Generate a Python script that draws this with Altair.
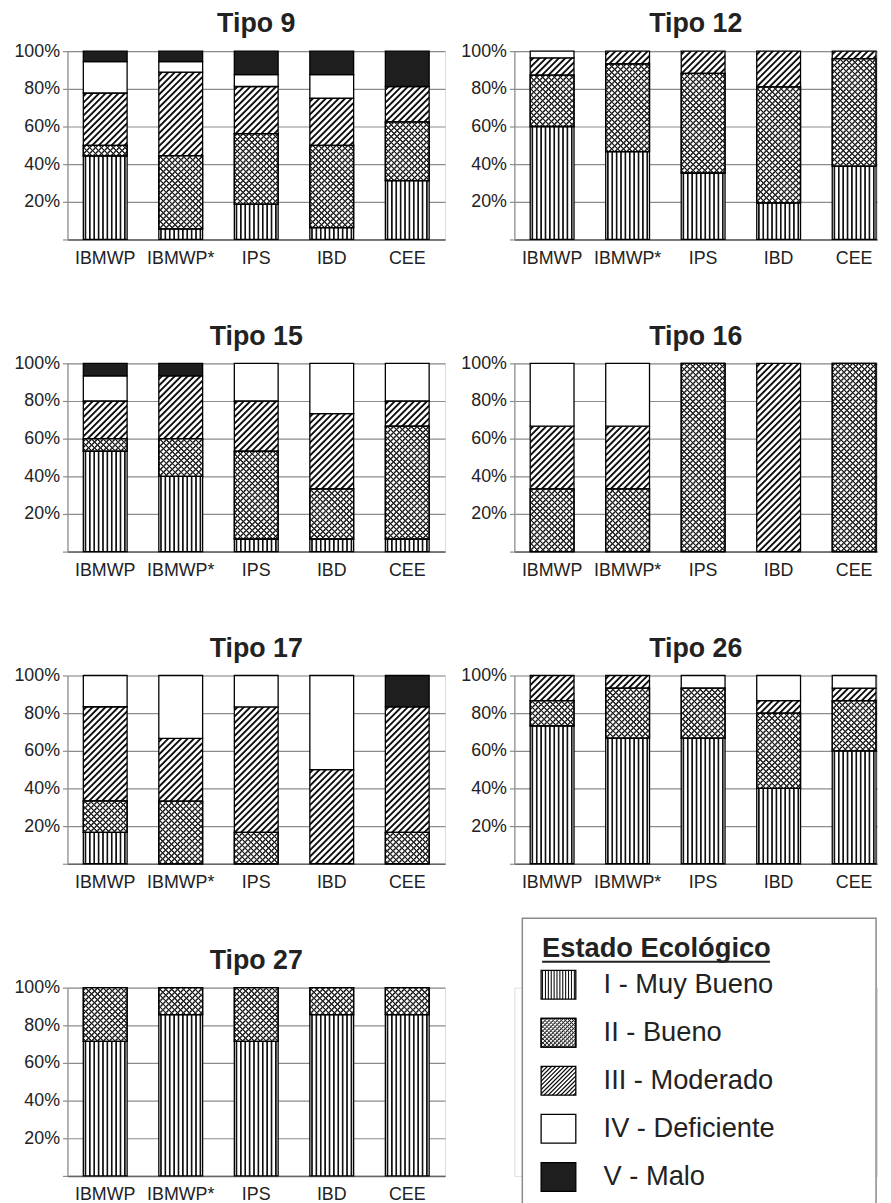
import math
import altair as alt

# ---------------- data (percent of sites per ecological state) ----------------
INDICES = ["IBMWP", "IBMWP*", "IPS", "IBD", "CEE"]
STATES = ["I", "II", "III", "IV", "V"]
STATE_LABELS = ["I - Muy Bueno", "II - Bueno", "III - Moderado", "IV - Deficiente", "V - Malo"]

# each row: one index, values for states I..V
TIPO_9 = [
    [44.4, 5.6, 27.8, 16.7, 5.5],
    [5.6, 38.9, 44.4, 5.6, 5.5],
    [18.75, 37.5, 25.0, 6.25, 12.5],
    [6.25, 43.75, 25.0, 12.5, 12.5],
    [31.25, 31.25, 18.75, 0.0, 18.75],
]
TIPO_12 = [
    [60.0, 27.3, 9.2, 3.5, 0.0],
    [46.7, 46.6, 6.7, 0.0, 0.0],
    [35.3, 52.9, 11.8, 0.0, 0.0],
    [19.5, 61.5, 19.0, 0.0, 0.0],
    [39.0, 57.0, 4.0, 0.0, 0.0],
]
TIPO_15 = [
    [53.3, 6.7, 20.0, 13.3, 6.7],
    [40.0, 20.0, 33.3, 0.0, 6.7],
    [6.7, 46.6, 26.7, 20.0, 0.0],
    [6.7, 26.6, 40.0, 26.7, 0.0],
    [6.7, 60.0, 13.3, 20.0, 0.0],
]
TIPO_16 = [
    [0.0, 33.3, 33.3, 33.4, 0.0],
    [0.0, 33.3, 33.3, 33.4, 0.0],
    [0.0, 100.0, 0.0, 0.0, 0.0],
    [0.0, 0.0, 100.0, 0.0, 0.0],
    [0.0, 100.0, 0.0, 0.0, 0.0],
]
TIPO_17 = [
    [16.7, 16.7, 50.0, 16.6, 0.0],
    [0.0, 33.3, 33.3, 33.4, 0.0],
    [0.0, 16.7, 66.6, 16.7, 0.0],
    [0.0, 0.0, 50.0, 50.0, 0.0],
    [0.0, 16.7, 66.6, 0.0, 16.7],
]
TIPO_26 = [
    [73.3, 13.3, 13.4, 0.0, 0.0],
    [66.7, 26.6, 6.7, 0.0, 0.0],
    [66.7, 26.6, 0.0, 6.7, 0.0],
    [40.0, 40.0, 6.7, 13.3, 0.0],
    [60.0, 26.7, 6.6, 6.7, 0.0],
]
TIPO_27 = [
    [71.4, 28.6, 0.0, 0.0, 0.0],
    [85.7, 14.3, 0.0, 0.0, 0.0],
    [71.4, 28.6, 0.0, 0.0, 0.0],
    [85.7, 14.3, 0.0, 0.0, 0.0],
    [85.7, 14.3, 0.0, 0.0, 0.0],
]
TITLES = ["Tipo 9", "Tipo 12", "Tipo 15", "Tipo 16", "Tipo 17", "Tipo 26", "Tipo 27"]
TABLES = [TIPO_9, TIPO_12, TIPO_15, TIPO_16, TIPO_17, TIPO_26, TIPO_27]

# ---------------- layout / style ----------------
FONT = "Liberation Sans"
W_LEFT, W_RIGHT, H = 381, 366, 190
PAD_IN = 0.42
STEP = W_LEFT / 5.0
BAR_W = STEP * (1 - PAD_IN)
PAD_OUT_RIGHT = (W_RIGHT / STEP - (5 - PAD_IN)) / 2.0
GRID = "#8c8c8c"
INK = "#222222"


def stripe_stops(K, frac, col, bg, r, phase=0.3):
    """Repeating stripe stops with soft (anti-aliased) edges; r = half ramp in t units."""
    st = [(0.0, bg)]
    i = 0
    while True:
        a = (i + phase) / K
        if a - r >= 1:
            break
        b = (i + phase + frac) / K
        half = min(r, (b - a) / 2.0)
        for o, c in [(a - half, bg), (a + half, col), (b - half, col), (b + half, bg)]:
            o = min(max(o, st[-1][0]), 1.0)
            st.append((o, c))
        i += 1
    return [{"offset": round(o, 5), "color": c} for o, c in st]


def vstripes(w, K, frac=0.38):
    return {"gradient": "linear", "x1": 0, "y1": 0, "x2": 1, "y2": 0,
            "stops": stripe_stops(K, frac, "#111111", "white", 0.45 / w)}


def diag(w, h, d, frac, col, bg, up=True):
    s = (w + h) / (w * w + h * h)
    K = (w + h) / (math.sqrt(2) * d)
    tpp = math.sqrt(2) / (w + h)  # t units per perpendicular pixel
    if up:
        x1, y1, x2, y2 = 0, 0, s * w, s * h
    else:
        x1, y1, x2, y2 = 0, 1, s * w, 1 - s * h
    return {"gradient": "linear", "x1": x1, "y1": y1, "x2": round(x2, 5), "y2": round(y2, 5),
            "stops": stripe_stops(K, frac, col, bg, 0.45 * tpp)}


def fills(k, w, h, dense=False):
    if k == 0:
        return vstripes(w, 12 if dense else 10), "transparent"
    if k == 1:
        d = 2.9 if dense else 4.2
        return (diag(w, h, d, 0.36, "#1a1a1a", "white", True),
                diag(w, h, d, 0.36, "#1a1a1a", "rgba(255,255,255,0)", False))
    if k == 2:
        d = 3.0 if dense else 4.6
        return diag(w, h, d, 0.42, "#111111", "white", True), "transparent"
    if k == 3:
        return "white", "transparent"
    return "#1e1e1e", "transparent"


def panel(title, table, right):
    recs = []
    for j, idx in enumerate(INDICES):
        cum = 0.0
        for k, st in enumerate(STATES):
            v = table[j][k]
            if v <= 0:
                continue
            base, over = fills(k, BAR_W, v / 100.0 * H)
            recs.append({"indice": idx, "estado": st, "y0": cum, "y1": cum + v,
                         "pat": base, "over": over})
            cum += v
    if right:
        xs = alt.Scale(domain=INDICES, paddingInner=PAD_IN, paddingOuter=PAD_OUT_RIGHT, align=0.94)
        width = W_RIGHT
    else:
        xs = alt.Scale(domain=INDICES, paddingInner=PAD_IN, paddingOuter=PAD_IN / 2)
        width = W_LEFT
    x = alt.X("indice:N", scale=xs, sort=INDICES,
              axis=alt.Axis(title=None, labelAngle=0, ticks=False, domainColor="#666666",
                            domainWidth=1.5, labelFontSize=18, labelFont=FONT,
                            labelColor=INK, labelPadding=10, grid=False))
    y = alt.Y("y0:Q", scale=alt.Scale(domain=[0, 100], nice=False),
              axis=alt.Axis(title=None, values=[0, 20, 40, 60, 80, 100],
                            labelExpr="datum.value == 0 ? '' : datum.value + '%'",
                            grid=True, gridColor=GRID, gridWidth=1.2,
                            domainColor=GRID, domainWidth=1.2, tickColor=GRID,
                            tickSize=5, tickWidth=1.2, labelFontSize=18, labelFont=FONT,
                            labelColor=INK, labelPadding=3))
    data = alt.Data(values=recs)
    base = alt.Chart(data).mark_bar(stroke="black", strokeWidth=1.3).encode(
        x=x, y=y, y2="y1:Q", fill=alt.Fill("pat:N", scale=None))
    over = alt.Chart(data).mark_bar(stroke="black", strokeWidth=1.3).encode(
        x=x, y=y, y2="y1:Q", fill=alt.Fill("over:N", scale=None)
    ).transform_filter("datum.estado == 'II'")
    return alt.layer(base, over).properties(
        width=width, height=H,
        title=alt.TitleParams(title, fontSize=27, font=FONT, fontWeight="bold",
                              color=INK, anchor="middle", offset=4))


def legend():
    recs = []
    for k, st in enumerate(STATES):
        base, over = fills(k, 35, 29, dense=True)
        recs.append({"estado": st, "label": STATE_LABELS[k], "pat": base, "over": over})
    data = alt.Data(values=recs)
    ys = alt.Scale(domain=STATES, range=[-27.25, 215.25], paddingInner=0.402, paddingOuter=0.201)
    one = alt.Data(values=[{"k": 0}])
    box = alt.Chart(one).mark_rect(fill="white", stroke="#8a8a8a", strokeWidth=1.5).encode(
        x=alt.value(8), x2=alt.value(365), y=alt.value(-70), y2=alt.value(232))
    head = alt.Chart(one).mark_text(align="left", baseline="alphabetic", fontSize=27.5,
                                    fontWeight="bold", font=FONT, color=INK).encode(
        x=alt.value(28), y=alt.value(-31), text=alt.value("Estado Ecológico"))
    underline = alt.Chart(one).mark_rule(color=INK, strokeWidth=2).encode(
        x=alt.value(28), x2=alt.value(258), y=alt.value(-26))
    sw = alt.Chart(data).mark_rect(stroke="black", strokeWidth=1.3).encode(
        x=alt.value(27), x2=alt.value(62), y=alt.Y("estado:N", scale=ys, axis=None),
        fill=alt.Fill("pat:N", scale=None))
    sw2 = alt.Chart(data).mark_rect(stroke="black", strokeWidth=1.3).encode(
        x=alt.value(27), x2=alt.value(62), y=alt.Y("estado:N", scale=ys, axis=None),
        fill=alt.Fill("over:N", scale=None)).transform_filter("datum.estado == 'II'")
    txt = alt.Chart(data).mark_text(align="left", baseline="middle", fontSize=27.5,
                                    font=FONT, color=INK).encode(
        x=alt.value(90), y=alt.Y("estado:N", scale=ys, axis=None), text="label:N")
    return alt.layer(box, head, underline, sw, sw2, txt).properties(width=W_RIGHT, height=H)


cells = [panel(t, tb, i % 2 == 1) for i, (t, tb) in enumerate(zip(TITLES, TABLES))]
cells.append(legend())

chart = alt.concat(*cells, columns=2, spacing={"row": 125, "column": 70}, bounds="flush").resolve_scale(
    x="independent", y="independent"
).properties(padding={"left": 5, "top": -4, "right": 5, "bottom": 5}).configure_view(
    stroke=None).configure(font=FONT, background="white")

chart.save("out.html", embed_options={"renderer": "svg", "actions": False})
